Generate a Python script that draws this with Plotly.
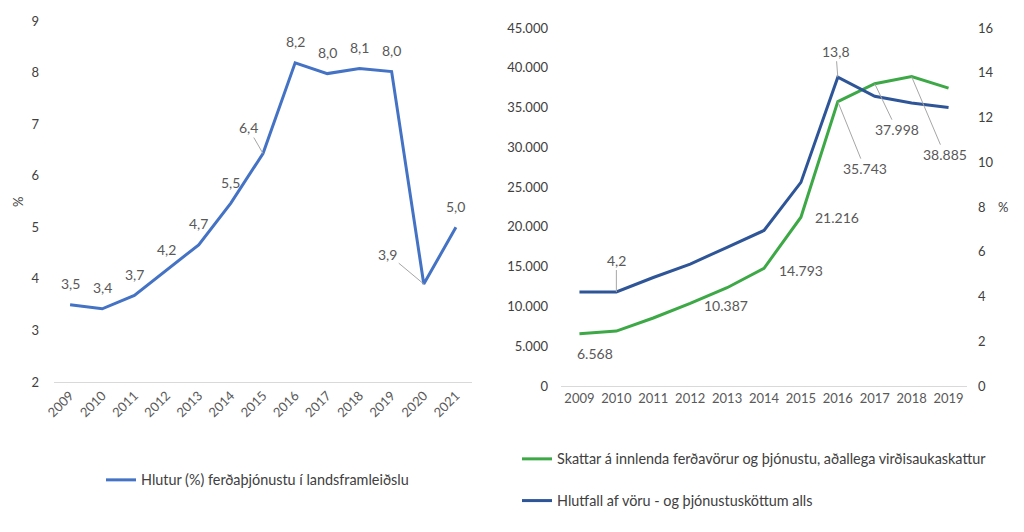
import plotly.graph_objects as go

# ---- data ----
years_left = [2009, 2010, 2011, 2012, 2013, 2014, 2015, 2016, 2017, 2018, 2019, 2020, 2021]
share_gdp = [3.5, 3.42, 3.68, 4.17, 4.66, 5.47, 6.43, 8.19, 7.98, 8.08, 8.02, 3.9, 5.0]
share_gdp_labels = ["3,5", "3,4", "3,7", "4,2", "4,7", "5,5", "6,4", "8,2", "8,0", "8,1", "8,0", "3,9", "5,0"]

years_right = [2009, 2010, 2011, 2012, 2013, 2014, 2015, 2016, 2017, 2018, 2019]
taxes = [6568, 6900, 8550, 10387, 12350, 14793, 21216, 35743, 37998, 38885, 37450]
tax_share = [4.2, 4.2, 4.85, 5.45, 6.2, 6.95, 9.1, 13.8, 12.95, 12.65, 12.45]

name_left = "Hlutur (%) ferðaþjónustu í landsframleiðslu"
name_tax = "Skattar á innlenda ferðavörur og þjónustu, aðallega virðisaukaskattur"
name_share = "Hlutfall af vöru - og þjónustusköttum alls"

c_left = "#4472C4"
c_green = "#3DA846"
c_blue = "#2E5597"
tick_col = "#404040"
lab_col = "#595959"
FONT = "Lato"

def fmt_thousand(v):
    return f"{v:,}".replace(",", ".")

fig = go.Figure()

fig.add_trace(go.Scatter(x=years_left, y=share_gdp, mode="lines", name=name_left,
                         line=dict(color=c_left, width=3), xaxis="x", yaxis="y",
                         legend="legend"))
fig.add_trace(go.Scatter(x=years_right, y=taxes, mode="lines", name=name_tax,
                         line=dict(color=c_green, width=3), xaxis="x2", yaxis="y2",
                         legend="legend2", legendgroup="a"))
fig.add_trace(go.Scatter(x=years_right, y=tax_share, mode="lines", name=name_share,
                         line=dict(color=c_blue, width=3), xaxis="x2", yaxis="y3",
                         legend="legend2", legendgroup="b"))

ann = []
lab_font = dict(family=FONT, size=14, color=lab_col)

# left chart labels
leader_left = {2015: (-15, -26), 2020: (-36, -30)}
for yr, v, t in zip(years_left, share_gdp, share_gdp_labels):
    if yr in leader_left:
        ax, ay = leader_left[yr]
        ann.append(dict(x=yr, y=v, xref="x", yref="y", text=t, showarrow=True,
                        arrowhead=0, arrowwidth=1, arrowcolor="#A6A6A6",
                        ax=ax, ay=ay, standoff=0, font=lab_font))
    else:
        ann.append(dict(x=yr, y=v, xref="x", yref="y", text=t, showarrow=False,
                        yshift=21, font=lab_font))

# right chart: blue labels (right axis)
blue_leader = {2010: (0, -32), 2016: (-2, -26)}
for yr, (ax, ay) in blue_leader.items():
    v = tax_share[years_right.index(yr)]
    ann.append(dict(x=yr, y=v, xref="x2", yref="y3", text=f"{v:.1f}".replace(".", ","),
                    showarrow=True, arrowhead=0, arrowwidth=1, arrowcolor="#A6A6A6",
                    ax=ax, ay=ay, standoff=0, font=lab_font))

# green labels
green_plain = {2009: (16, -20), 2012: (36, -2), 2014: (37, -2), 2015: (36, 0)}
for yr, (xs, ys) in green_plain.items():
    v = taxes[years_right.index(yr)]
    ann.append(dict(x=yr, y=v, xref="x2", yref="y2", text=fmt_thousand(v),
                    showarrow=False, xshift=xs, yshift=ys, font=lab_font))
green_leader = {2016: (27, 67), 2017: (22, 46), 2018: (33, 78)}
for yr, (ax, ay) in green_leader.items():
    v = taxes[years_right.index(yr)]
    ann.append(dict(x=yr, y=v, xref="x2", yref="y2", text=fmt_thousand(v),
                    showarrow=True, arrowhead=0, arrowwidth=1, arrowcolor="#A6A6A6",
                    ax=ax, ay=ay, standoff=0, font=lab_font))

# axis titles
ann.append(dict(x=18 / 1024, y=1 - 202 / 532, xref="paper", yref="paper", text="%",
                showarrow=False, textangle=-90,
                font=dict(family=FONT, size=13, color=tick_col),
                xanchor="center", yanchor="middle"))
ann.append(dict(x=1003 / 1024, y=8, xref="paper", yref="y3", text="%", showarrow=False,
                font=dict(family=FONT, size=13, color=tick_col),
                xanchor="center", yanchor="middle"))

tick_font = dict(family=FONT, size=13, color=tick_col)
xtick_font = dict(family=FONT, size=13, color=lab_col)
leg_font = dict(family=FONT, size=14.4, color=tick_col)

fig.update_layout(
    width=1024, height=532,
    margin=dict(l=0, r=0, t=0, b=0, autoexpand=False),
    paper_bgcolor="white", plot_bgcolor="white",
    separators=",.",
    font=dict(family=FONT, size=13, color=tick_col),
    xaxis=dict(domain=[54 / 1024, 472 / 1024], range=[2008.5, 2021.5], tickmode="array",
               tickvals=years_left, ticktext=[str(y) for y in years_left], tickangle=-45,
               showgrid=False, zeroline=False, showline=True, linecolor="#D9D9D9",
               ticks="", tickfont=xtick_font, anchor="y", automargin=False),
    yaxis=dict(domain=[1 - 382 / 532, 1 - 21 / 532], range=[2, 9], dtick=1,
               showgrid=False, zeroline=False, ticks="", tickfont=tick_font,
               anchor="x", ticklabelstandoff=14, automargin=False),
    xaxis2=dict(domain=[561 / 1024, 967 / 1024], range=[2008.5, 2019.5], tickmode="array",
                tickvals=years_right, ticktext=[str(y) for y in years_right], tickangle=0,
                showgrid=False, zeroline=False, showline=True, linecolor="#D9D9D9",
                ticks="", tickfont=xtick_font, anchor="y2", automargin=False),
    yaxis2=dict(domain=[1 - 386 / 532, 1 - 28 / 532], range=[0, 45000], dtick=5000,
                tickformat=",", showgrid=False, zeroline=False, ticks="",
                tickfont=tick_font, anchor="x2", ticklabelstandoff=12, automargin=False),
    yaxis3=dict(domain=[1 - 386 / 532, 1 - 28 / 532], range=[0, 16], dtick=2,
                overlaying="y2", side="right", showgrid=False, zeroline=False, ticks="",
                tickfont=tick_font, anchor="x2", ticklabelstandoff=10, automargin=False),
    legend=dict(x=101 / 1024, y=1 - 480 / 532, xanchor="left", yanchor="middle",
                font=leg_font, bgcolor="rgba(0,0,0,0)"),
    legend2=dict(x=517 / 1024, y=1 - 480 / 532, xanchor="left", yanchor="middle",
                 font=leg_font, bgcolor="rgba(0,0,0,0)",
                 tracegroupgap=20, traceorder="grouped"),
    annotations=ann,
    showlegend=True,
)

fig.write_html("out.html", config={"displayModeBar": False},
               post_script="document.body.style.margin='0';document.body.style.overflow='hidden';")
